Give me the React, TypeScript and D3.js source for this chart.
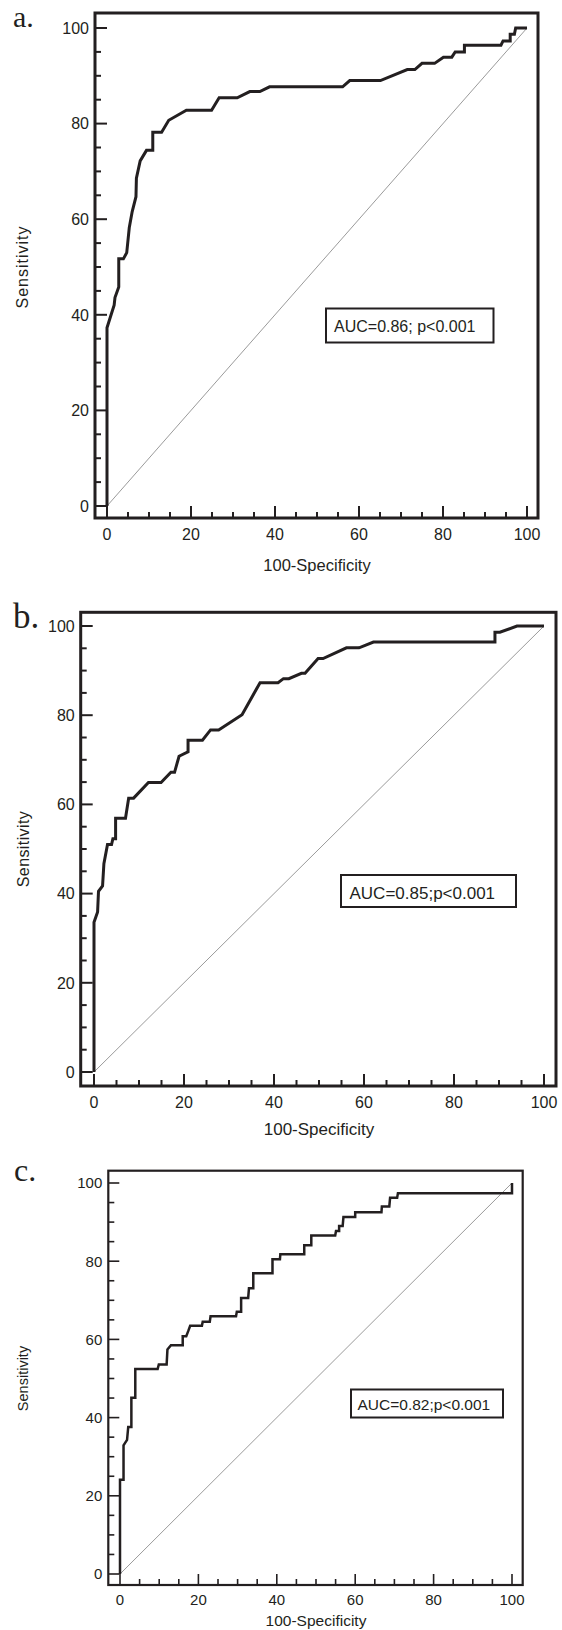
import React from 'react';
import * as d3 from 'd3';

// ROC points: [100-specificity, sensitivity]
const rocA: [number, number][] = [
  [0, 0], [0, 37.3], [0.9, 39.8], [1.7, 42], [1.9, 43.6], [2.8, 45.8], [2.8, 51.7], [3.9, 51.7],
  [4.7, 53], [5.3, 58.2], [6.0, 61.6], [6.9, 64.7], [7.0, 68.6], [7.9, 72.2], [9.4, 74.4],
  [10.9, 74.4], [10.9, 78.2], [13.0, 78.2], [14.7, 80.7], [18.9, 82.8], [24.9, 82.8],
  [26.7, 85.4], [31.0, 85.4], [34.0, 86.7], [36.4, 86.7], [38.7, 87.7], [56.1, 87.7],
  [57.8, 89.0], [65.1, 89.0], [71.5, 91.3], [73.3, 91.3], [75.0, 92.6], [78.0, 92.6],
  [80.1, 93.9], [82.1, 93.9], [82.9, 95.0], [85.1, 95.0], [85.1, 96.4], [93.8, 96.4],
  [94.3, 97.3], [96.0, 97.3], [96.0, 98.7], [97.0, 98.7], [97.3, 100], [100, 100],
];

const rocB: [number, number][] = [
  [0, 0], [0, 33.6], [0.8, 35.9], [1.0, 40.5], [1.9, 41.7], [2.2, 46.7], [3.0, 51.0], [3.9, 51.0],
  [4.2, 52.3], [4.8, 52.3], [4.8, 56.9], [7.0, 56.9], [7.7, 61.4], [8.8, 61.4], [12.1, 64.9],
  [14.9, 64.9], [17.1, 67.2], [17.9, 67.2], [18.9, 70.8], [20.9, 71.8], [20.9, 74.4],
  [24.1, 74.4], [25.9, 76.7], [27.7, 76.7], [32.9, 80.1], [36.9, 87.3], [40.9, 87.3],
  [42.1, 88.2], [43.3, 88.2], [46.1, 89.4], [46.9, 89.4], [49.8, 92.7], [50.9, 92.7],
  [56.1, 95.1], [58.9, 95.1], [62.1, 96.4], [89.1, 96.4], [89.1, 98.6], [90.2, 98.6],
  [94.0, 100], [100, 100],
];

const rocC: [number, number][] = [
  [0, 0], [0, 24.1], [0.9, 24.1], [0.9, 32.9], [1.8, 34.3], [2.1, 37.6], [2.9, 37.6], [2.9, 45.1],
  [3.9, 45.1], [3.9, 52.4], [9.6, 52.4], [9.9, 53.6], [11.9, 53.6], [12.1, 57.4], [13.0, 58.5],
  [16.0, 58.5], [16.0, 60.8], [16.9, 60.8], [17.4, 62.1], [17.9, 63.5], [20.9, 63.5],
  [21.1, 64.5], [22.9, 64.5], [23.1, 65.9], [29.6, 65.9], [29.8, 67.1], [30.9, 67.1],
  [30.9, 70.6], [32.7, 70.6], [32.9, 73.1], [34.0, 73.1], [34.0, 76.9], [38.9, 76.9],
  [38.9, 80.5], [40.8, 80.5], [40.9, 81.8], [47.0, 81.8], [47.0, 84.1], [48.8, 84.1],
  [48.8, 86.6], [54.9, 86.6], [55.1, 87.7], [55.9, 87.7], [55.9, 89.0], [56.8, 89.0],
  [57.0, 91.3], [60.0, 91.3], [60.0, 92.5], [66.7, 92.5], [66.8, 94.0], [68.7, 94.0],
  [68.9, 96.2], [70.7, 96.2], [70.9, 97.4], [100, 97.4], [100, 100],
];

const majorTicks = [0, 20, 40, 60, 80, 100];
const panelLetters = ['a.', 'b.', 'c.'];
const aucTexts = ['AUC=0.86; p<0.001', 'AUC=0.85;p<0.001', 'AUC=0.82;p<0.001'];
const xTitle = '100-Specificity';
const yTitle = 'Sensitivity';

const INK = '#231f20';

// layout per panel (pixels)
const layouts = [
  {
    frame: [95, 13, 538, 518], xr: [107, 527], yr: [506, 28], frameW: 3, lineW: 3, tickW: 2,
    major: 12, minor: 6, tickFont: 16, xLabDy: 22, titleDy: 53, titleFont: 16.5,
    yTitleX: 27.5, yTitleFont: 16, yTitleSpacing: 1,
    letter: { x: 13, y: 27, size: 30 },
    box: [326, 308.5, 493.5, 342.5], boxText: { x: 334, y: 332, size: 16 },
  },
  {
    frame: [80.7, 612.3, 556, 1086], xr: [94, 544], yr: [1072, 626], frameW: 3, lineW: 3, tickW: 2,
    major: 12, minor: 6, tickFont: 16, xLabDy: 22, titleDy: 48.5, titleFont: 17,
    yTitleX: 28.8, yTitleFont: 16, yTitleSpacing: 0.4,
    letter: { x: 13, y: 628, size: 35 },
    box: [341, 875, 516, 907], boxText: { x: 349.5, y: 899, size: 17 },
  },
  {
    frame: [108.3, 1170.7, 522.7, 1585], xr: [120, 512], yr: [1574, 1183], frameW: 2.2, lineW: 2.5, tickW: 1.6,
    major: 11, minor: 6, tickFont: 15, xLabDy: 19.5, titleDy: 40.5, titleFont: 15.5,
    yTitleX: 28.4, yTitleFont: 14.5, yTitleSpacing: 0,
    letter: { x: 14, y: 1181, size: 32 },
    box: [351, 1389.5, 503, 1417.5], boxText: { x: 357.5, y: 1410, size: 15.5 },
  },
];

const sans = '"Liberation Sans", Arial, Helvetica, sans-serif';
const serif = '"Liberation Serif", "Times New Roman", serif';

function Panel({ idx, data }: { idx: number; data: [number, number][] }) {
  const L = layouts[idx];
  const x = d3.scaleLinear().domain([0, 100]).range(L.xr);
  const y = d3.scaleLinear().domain([0, 100]).range(L.yr);
  const [fx0, fy0, fx1, fy1] = L.frame;
  const allTicks = d3.range(0, 101, 5);
  const curve = d3.line<[number, number]>().x(d => x(d[0])).y(d => y(d[1]));
  const diag = d3.line<[number, number]>().x(d => x(d[0])).y(d => y(d[1]));

  return (
    <g>
      <text x={L.letter.x} y={L.letter.y} fontFamily={serif} fontSize={L.letter.size} fill={INK}>
        {panelLetters[idx]}
      </text>

      {/* ticks pointing inward */}
      {allTicks.map(t => {
        const len = t % 20 === 0 ? L.major : L.minor;
        return (
          <g key={'t' + t} stroke={INK} strokeWidth={L.tickW}>
            <line x1={x(t)} x2={x(t)} y1={fy1} y2={fy1 - len} />
            <line x1={fx0} x2={fx0 + len} y1={y(t)} y2={y(t)} />
          </g>
        );
      })}

      {majorTicks.map(t => (
        <text key={'xl' + t} x={x(t)} y={fy1 + L.xLabDy} textAnchor="middle"
          fontFamily={sans} fontSize={L.tickFont} fill={INK}>{t}</text>
      ))}
      {majorTicks.map(t => (
        <text key={'yl' + t} x={fx0 - 6} y={y(t)} dy="0.36em" textAnchor="end"
          fontFamily={sans} fontSize={L.tickFont} fill={INK}>{t}</text>
      ))}

      <text x={(L.xr[0] + L.xr[1]) / 2} y={fy1 + L.titleDy} textAnchor="middle"
        fontFamily={sans} fontSize={L.titleFont} fill={INK}>{xTitle}</text>
      <text transform={`translate(${L.yTitleX},${(L.yr[0] + L.yr[1]) / 2}) rotate(-90)`}
        textAnchor="middle" fontFamily={sans} fontSize={L.yTitleFont}
        letterSpacing={L.yTitleSpacing} fill={INK}>{yTitle}</text>

      {/* reference diagonal */}
      <path d={diag([[0, 0], [100, 100]]) || ''} fill="none" stroke="#555" strokeWidth={0.6} />

      <path d={curve(data) || ''} fill="none" stroke={INK} strokeWidth={L.lineW}
        strokeLinejoin="miter" strokeLinecap="butt" />

      <rect x={fx0} y={fy0} width={fx1 - fx0} height={fy1 - fy0} fill="none"
        stroke={INK} strokeWidth={L.frameW} />

      <rect x={L.box[0]} y={L.box[1]} width={L.box[2] - L.box[0]} height={L.box[3] - L.box[1]}
        fill="#fff" stroke={INK} strokeWidth={2} />
      <text x={L.boxText.x} y={L.boxText.y} fontFamily={sans} fontSize={L.boxText.size} fill={INK}>
        {aucTexts[idx]}
      </text>
    </g>
  );
}

export default function App() {
  const series = [rocA, rocB, rocC];
  return (
    <svg width={562} height={1630} style={{ position: 'absolute', left: 0, top: 0, background: '#fff' }}>
      <rect width={562} height={1630} fill="#fff" />
      {series.map((d, i) => <Panel key={i} idx={i} data={d} />)}
    </svg>
  );
}
